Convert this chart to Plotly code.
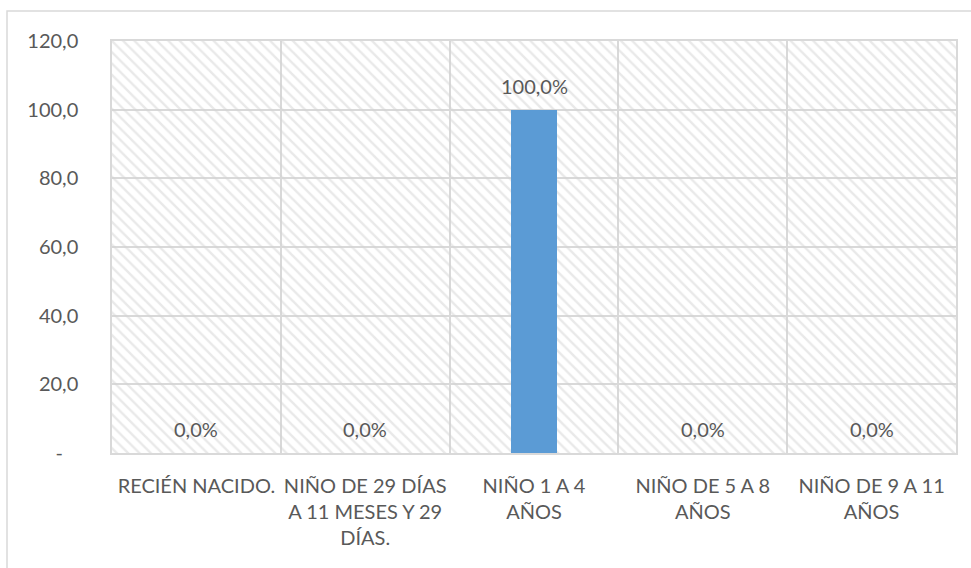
import plotly.graph_objects as go

# Age groups and their share of cases (percent)
categories = [
    "RECIÉN NACIDO.",
    "NIÑO DE 29 DÍAS<br>A 11 MESES Y 29<br>DÍAS.",
    "NIÑO 1 A 4<br>AÑOS",
    "NIÑO DE 5 A 8<br>AÑOS",
    "NIÑO DE 9 A 11<br>AÑOS",
]
values = [0.0, 0.0, 100.0, 0.0, 0.0]

y_ticks = [0, 20, 40, 60, 80, 100, 120]
y_tick_labels = ["-\u00a0\u00a0\u00a0", "20,0", "40,0", "60,0", "80,0", "100,0", "120,0"]

Y_MAX = 120
FONT = "Lato"
TEXT_COLOR = "#595959"
GRID_COLOR = "#d9d9d9"
BAR_COLOR = "#5b9bd5"

fig = go.Figure()

# Hatched plot-area background: one full-width bar per category
fig.add_trace(go.Bar(
    x=categories,
    y=[Y_MAX] * len(categories),
    width=1,
    marker=dict(
        color="rgba(0,0,0,0)",
        line=dict(width=0),
        pattern=dict(shape="\\", fgcolor="#d3d3d3", bgcolor="rgba(0,0,0,0)",
                     size=8, solidity=0.3, fillmode="overlay"),
    ),
    hoverinfo="skip",
    showlegend=False,
))

# Data bars
fig.add_trace(go.Bar(
    x=categories,
    y=values,
    width=0.27,
    marker=dict(color=BAR_COLOR, line=dict(width=0)),
    showlegend=False,
))

# Value labels above each bar
for cat, v in zip(categories, values):
    fig.add_annotation(
        x=cat, y=v,
        text=f"{v:.1f}%".replace(".", ","),
        showarrow=False,
        yanchor="middle",
        yshift=24,
        font=dict(family=FONT, size=20, color=TEXT_COLOR),
    )

# Outer chart frame
fig.add_shape(
    type="rect", xref="paper", yref="paper",
    x0=-0.1244, x1=1.03, y0=-0.3, y1=1.0728,
    line=dict(color=GRID_COLOR, width=1.5),
    fillcolor="rgba(0,0,0,0)",
    layer="below",
)

fig.update_layout(
    width=971,
    height=568,
    margin=dict(l=112, r=15, t=41, b=115),
    paper_bgcolor="white",
    plot_bgcolor="white",
    barmode="overlay",
    bargap=0,
    font=dict(family=FONT, size=20, color=TEXT_COLOR),
    xaxis=dict(
        type="category",
        range=[-0.5, len(categories) - 0.5],
        tickson="boundaries",
        tickangle=0,
        automargin=False,
        showgrid=True,
        gridcolor=GRID_COLOR,
        gridwidth=1.5,
        showline=True,
        linecolor=GRID_COLOR,
        linewidth=2,
        mirror=True,
        ticks="",
        ticklabelstandoff=14,
        tickfont=dict(family=FONT, size=20, color=TEXT_COLOR),
        fixedrange=True,
    ),
    yaxis=dict(
        range=[0, Y_MAX],
        tickvals=y_ticks,
        ticktext=y_tick_labels,
        automargin=False,
        showgrid=True,
        gridcolor=GRID_COLOR,
        gridwidth=1.5,
        showline=True,
        linecolor=GRID_COLOR,
        linewidth=1.5,
        mirror=True,
        zeroline=False,
        ticks="",
        ticklabelstandoff=28,
        tickfont=dict(family=FONT, size=20, color=TEXT_COLOR),
        fixedrange=True,
    ),
)

fig.write_html("out.html")
